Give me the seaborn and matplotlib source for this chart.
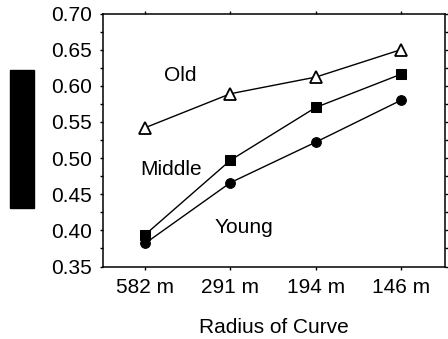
import matplotlib
matplotlib.use("Agg")
import matplotlib.pyplot as plt
import seaborn as sns
import pandas as pd
from matplotlib.patches import Rectangle
from matplotlib.ticker import MultipleLocator

radii = ["582 m", "291 m", "194 m", "146 m"]
groups = ["Old", "Middle", "Young"]
old = [0.542, 0.589, 0.612, 0.650]
middle = [0.394, 0.497, 0.570, 0.616]
young = [0.382, 0.466, 0.522, 0.580]
yticks = [0.35, 0.40, 0.45, 0.50, 0.55, 0.60, 0.65, 0.70]

sns.set_theme(style="ticks")
plt.rcParams["font.family"] = ["Liberation Sans", "DejaVu Sans"]
plt.rcParams["text.color"] = "black"
plt.rcParams["axes.labelcolor"] = "black"

df = pd.DataFrame({
    "radius": radii * 3,
    "value": old + middle + young,
    "group": [g for g in groups for _ in radii],
})

fig = plt.figure(figsize=(4.48, 3.39), dpi=100)
ax = fig.add_axes([102.5 / 448, 1 - 266.5 / 339, 342 / 448, 253 / 339])

sns.pointplot(data=df, x="radius", y="value", hue="group", order=radii,
              hue_order=groups, palette=["black"] * 3, markers=["^", "s", "o"],
              linestyles=["-", "-", "-"], errorbar=None, legend=False,
              markersize=7, linewidth=1.0, ax=ax)

for ln in ax.lines:
    if ln.get_marker() == "^":
        ln.set_markerfacecolor("white")
        ln.set_markeredgecolor("black")
        ln.set_markeredgewidth(1.3)
        ln.set_markersize(8.5)
        ln.set_zorder(5)

ax.set_xlim(-0.5, 3.51)
ax.set_ylim(0.35, 0.70)
ax.set_yticks(yticks)
ax.set_yticklabels([f"{v:.2f}" for v in yticks])
ax.yaxis.set_minor_locator(MultipleLocator(0.025))
ax.set_ylabel("")
ax.set_xlabel("Radius of Curve", fontsize=15, labelpad=15, color="black")

for s in ["left", "right", "top", "bottom"]:
    ax.spines[s].set_visible(True)
    ax.spines[s].set_linewidth(1.1)
    ax.spines[s].set_color("black")

ax.tick_params(axis="y", which="major", direction="out", length=2.5, width=1,
               labelsize=15, pad=5, right=True, colors="black")
ax.tick_params(axis="y", which="minor", direction="out", length=2, width=1,
               right=True, colors="black")
ax.tick_params(axis="x", which="major", direction="out", length=2.5, width=1,
               labelsize=15, pad=6, top=True, bottom=True, colors="black")

ax.text(0.414, 0.614, "Old", fontsize=15, ha="center", va="center", color="black")
ax.text(0.309, 0.484, "Middle", fontsize=15, ha="center", va="center", color="black")
ax.text(1.153, 0.404, "Young", fontsize=15, ha="center", va="center", color="black")

fig.patches.append(Rectangle((10 / 448, 1 - 208 / 339), 24 / 448, 138 / 339,
                             transform=fig.transFigure, color="black"))

fig.savefig("out.png", dpi=100)
